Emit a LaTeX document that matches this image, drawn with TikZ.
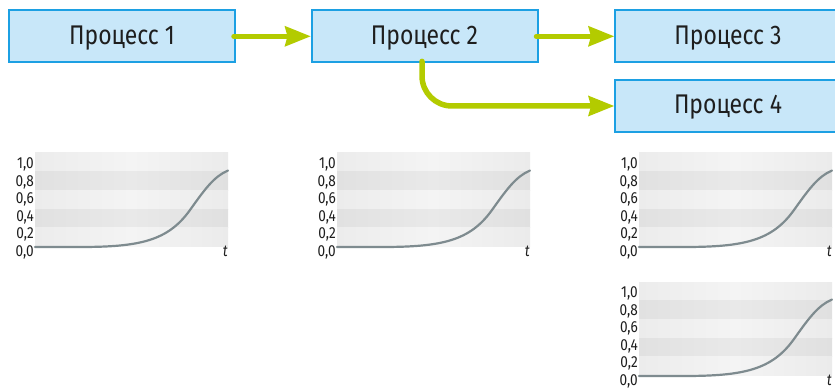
\documentclass[tikz,border=0pt]{standalone}
\usepackage{fontspec}
\setmainfont{Fira Sans}
\newfontfamily\boxfont[FakeStretch=0.85]{Fira Sans}
\newfontfamily\tickfont[FakeStretch=0.85]{Fira Sans}
\usetikzlibrary{arrows.meta}

\definecolor{boxfill}{HTML}{C8E7F9}
\definecolor{boxline}{HTML}{1CA0E3}
\definecolor{flow}{HTML}{B3CB00}
\definecolor{curvegray}{HTML}{7E8B8F}
\definecolor{ink}{HTML}{1E1E1E}

\definecolor{bandLL}{HTML}{ECECEC}
\definecolor{bandLM}{HTML}{F4F4F4}
\definecolor{bandLR}{HTML}{EBEBEB}
\definecolor{bandDL}{HTML}{E1E1E1}
\definecolor{bandDM}{HTML}{E9E9E9}
\definecolor{bandDR}{HTML}{E0E0E0}

% one growth chart: name, x shift, y shift
\newcommand\growthchart[3]{%
  \begin{scope}[shift={(#2,#3)}]
    \foreach \i in {0,...,4} {
      \pgfmathsetmacro\bandy{153+18.7*\i}
      \ifodd\i
        \shade[left color=bandDL, right color=bandDR, middle color=bandDM]
          (35,\bandy) rectangle (228,\bandy+18.7);
      \else
        \shade[left color=bandLL, right color=bandLR, middle color=bandLM]
          (35,\bandy) rectangle (228,\bandy+18.7);
      \fi
    }
    \foreach \lab [count=\k from 0] in {{1,0},{0,8},{0,6},{0,4},{0,2},{0,0}}
      \node[ticklabel] (#1-y\k) at (34,168.8+17.5*\k) {\lab};
    \node[ticklabel, font=\tickfont\itshape\fontsize{16}{18}\selectfont] (#1-t) at (228,256.3) {t};
    \draw[growth] (35,247) -- (80,247)
      .. controls (140,247) and (168,240.8) .. (190,210)
      .. controls (205,189) and (214,176.5) .. (228,170.5);
  \end{scope}%
}

\begin{document}
\begin{tikzpicture}[x=1pt,y=-1pt,
  procbox/.style={draw=boxline, fill=boxfill, line width=2pt,
    minimum width=226pt, minimum height=52pt, inner sep=0pt,
    text height=20pt, text depth=4pt,
    font=\boxfont\fontsize{27}{30}\selectfont, text=ink},
  flowarrow/.style={draw=flow, line width=5.5pt, line cap=round,
    -{Stealth[length=26pt,width=21pt,inset=3pt,line width=0pt]}},
  ticklabel/.style={anchor=base east, inner sep=0pt,
    font=\tickfont\fontsize{16}{18}\selectfont, text=ink},
  growth/.style={draw=curvegray, line width=2.2pt, line join=round, line cap=round}
]
\clip (0,0) rectangle (835,390);
\fill[white] (0,0) rectangle (835,390);

% process boxes
\node[procbox] (p1) at (122,36.3) {Процесс 1};
\node[procbox] (p2) at (424.5,36.3) {Процесс 2};
\node[procbox] (p3) at (728,36.3) {Процесс 3};
\node[procbox] (p4) at (728,106) {Процесс 4};

% flow between processes
\draw[flowarrow] ([xshift=-2pt]p1.east) -- (p2.west);
\draw[flowarrow] ([xshift=-2pt]p2.east) -- (p3.west);
\draw[flowarrow, rounded corners=30pt] ([xshift=-2.5pt,yshift=2pt]p2.south) |- (p4.west);

% growth charts under the processes
\growthchart{g1}{0}{0}
\growthchart{g2}{302}{0}
\growthchart{g3}{604}{0}
\growthchart{g4}{604}{129}
\end{tikzpicture}
\end{document}
